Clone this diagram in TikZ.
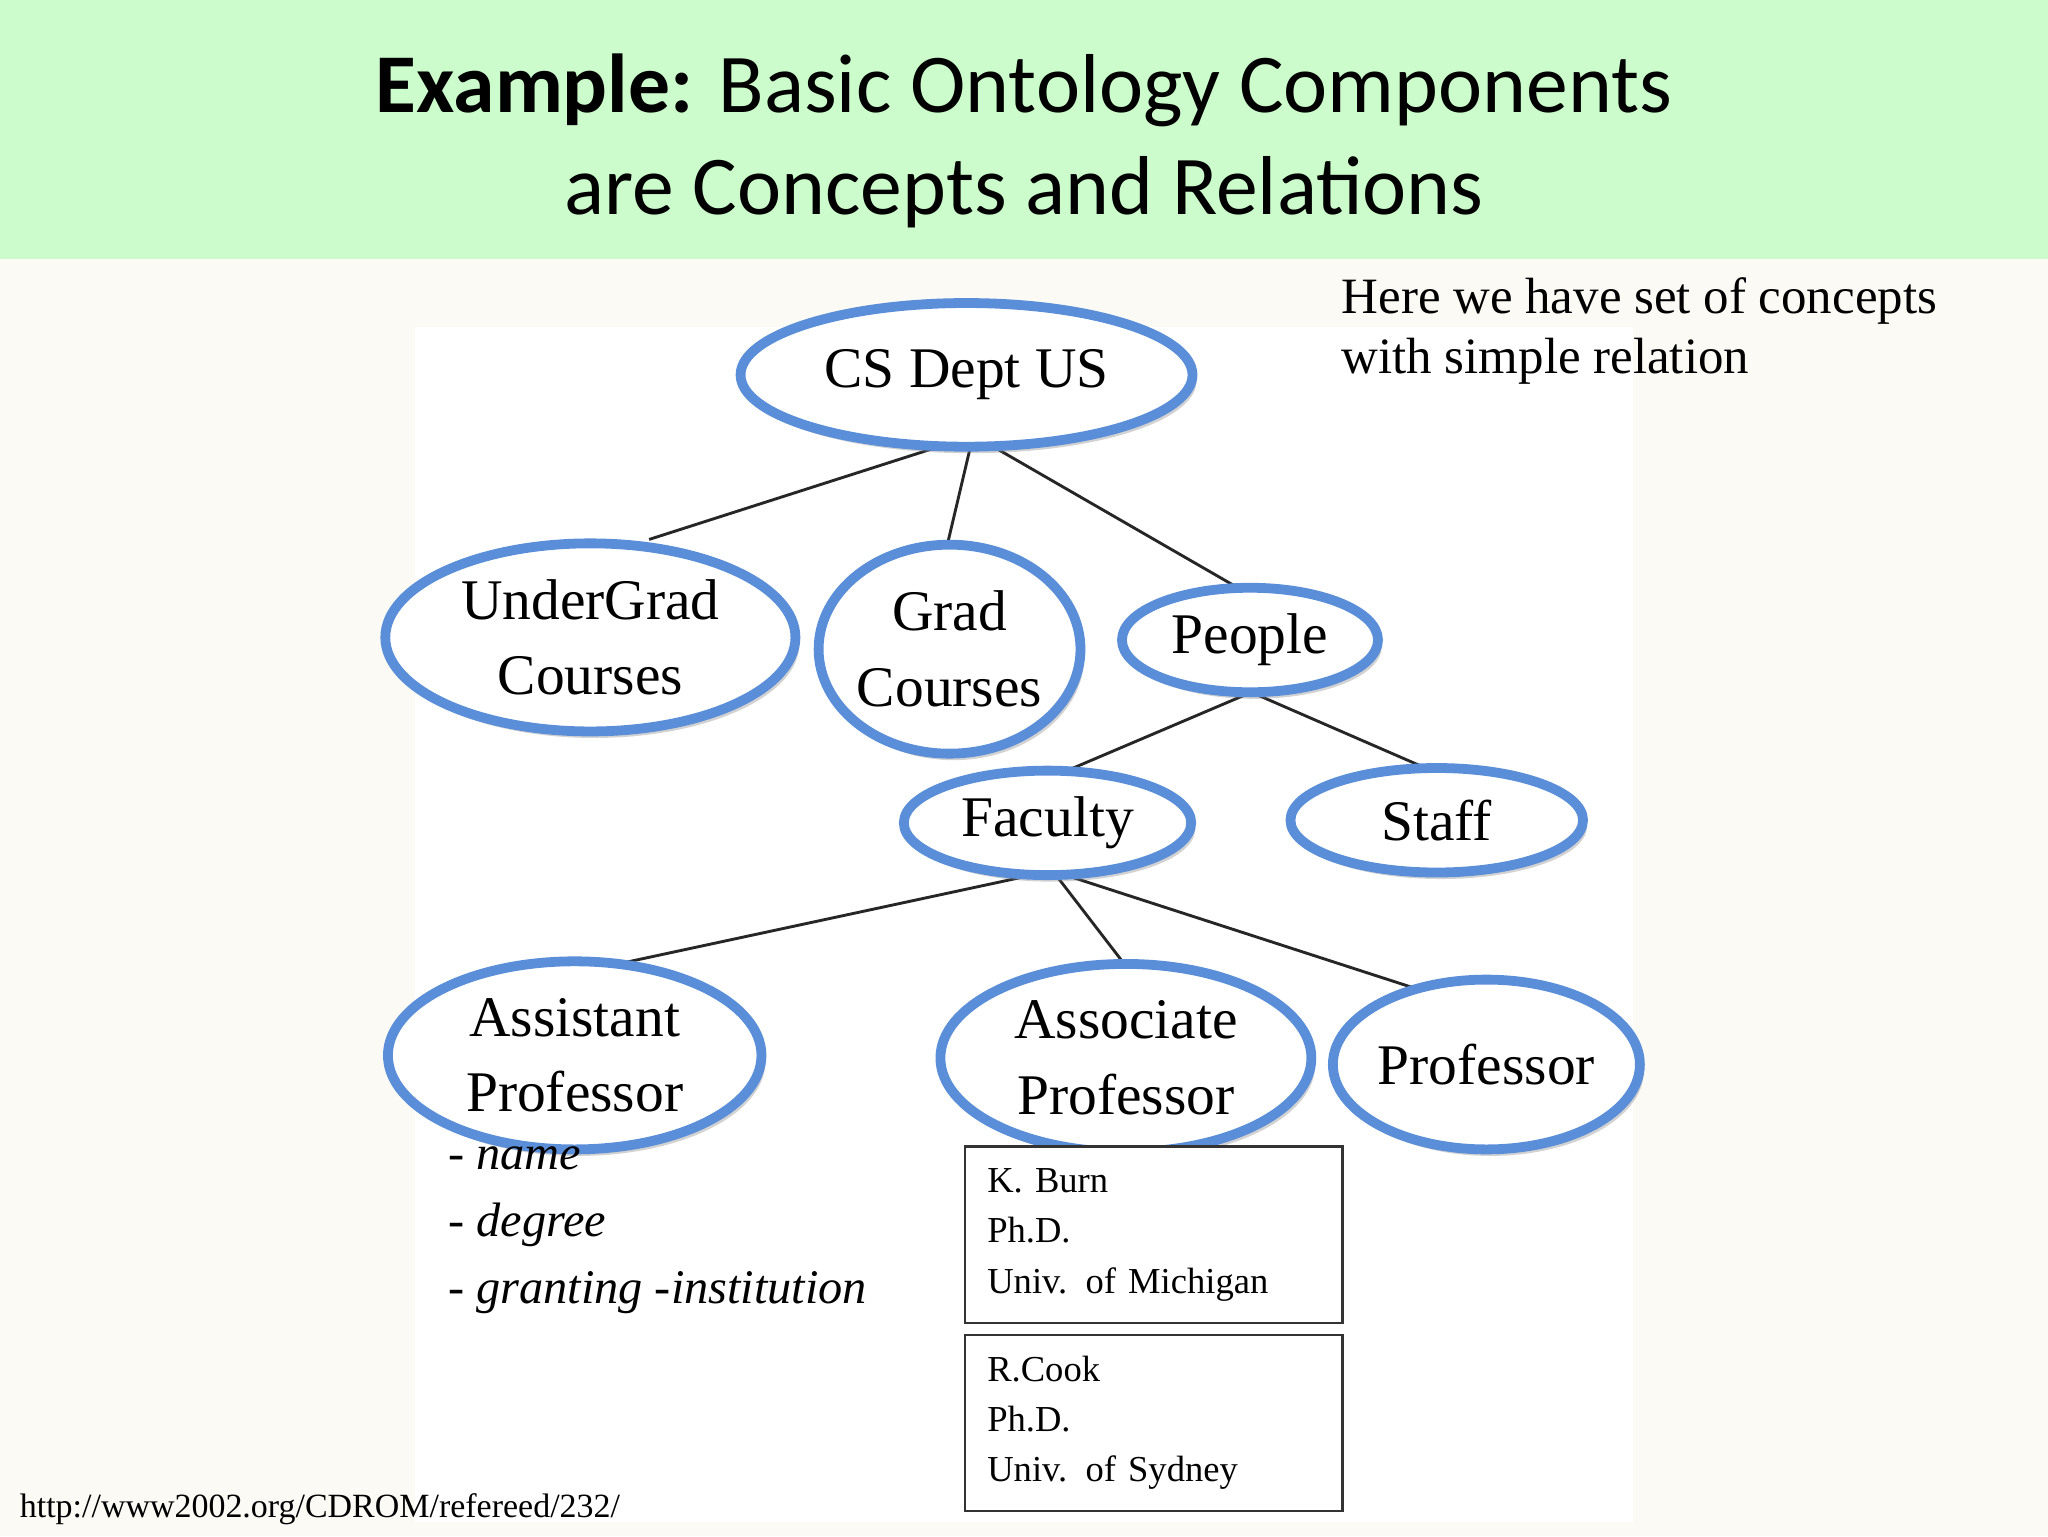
\documentclass[tikz,border=0pt]{standalone}
\usepackage{fontspec}
\setmainfont{Liberation Serif}
\newfontfamily\titlefont{Carlito}
\usetikzlibrary{shapes.geometric,shadows}
\definecolor{band}{HTML}{CCFCCC}
\definecolor{bg}{HTML}{FBFAF5}
\definecolor{ell}{HTML}{5B8ED8}
\tikzset{
 concept/.style={ellipse, draw=ell, line width=7.5pt, fill=white, inner sep=0pt, align=center,
   font=\fontsize{44}{58}\selectfont, drop shadow={shadow xshift=3pt,shadow yshift=-5pt,opacity=0.35}},
 rel/.style={line width=2.2pt, black!85},
 inst/.style={draw=black!80, line width=1.8pt, minimum width=289pt, minimum height=135pt, fill=white,
   align=left, text width=255pt, font=\fontsize{28}{38.5}\selectfont}
}
\begin{document}
\begin{tikzpicture}[x=1pt,y=-1pt]
\useasboundingbox (0,0) rectangle (1568,1176);
\fill[bg] (0,0) rectangle (1568,1176);
\fill[band] (0,0) rectangle (1568,198);
\fill[white] (318,250) rectangle (1250,1165);
\node[font=\titlefont\fontsize{64}{78}\selectfont, align=center] (title) at (784,108)
  {\textbf{Example:} Basic Ontology Components\\are Concepts and Relations};
\node[anchor=north west, align=left, font=\fontsize{39}{46}\selectfont, inner sep=0pt] (note) at (1027,212)
  {Here we have set of concepts\\with simple relation};
\coordinate (csb1) at (725,340);
\coordinate (csb2) at (743,342);
\coordinate (csb3) at (757,340);
\draw[rel] (csb1) -- (497,413) coordinate (ugt);
\draw[rel] (csb2) -- (726,414) coordinate (gct);
\draw[rel] (csb3) -- (946,449) coordinate (pet);
\coordinate (peb) at (958,530);
\draw[rel] (peb) -- (817,590) coordinate (fat);
\draw[rel] (peb) -- (1096,590) coordinate (stt);
\coordinate (fab1) at (790,670);
\coordinate (fab2) at (810,672);
\coordinate (fab3) at (822,672);
\draw[rel] (fab1) -- (478,737) coordinate (apt);
\draw[rel] (fab2) -- (860,737) coordinate (ast);
\draw[rel] (fab3) -- (1140,775) coordinate (prt);
\node[concept, minimum width=346pt, minimum height=110pt] (cs) at (740,287) {\raisebox{-8pt}{CS Dept US}};
\node[concept, minimum width=314pt, minimum height=144pt] (ug) at (452,488) {\raisebox{-4pt}{UnderGrad}\\\raisebox{-4pt}{Courses}};
\node[concept, minimum width=200pt, minimum height=160pt] (gc) at (727,497) {Grad\\Courses};
\node[concept, minimum width=196pt, minimum height=80pt] (pe) at (957,490) {\raisebox{-4pt}{People}};
\node[concept, minimum width=220pt, minimum height=80pt] (fa) at (802,630) {\raisebox{-2pt}{Faculty}};
\node[concept, minimum width=224pt, minimum height=80pt] (st) at (1100,628) {\raisebox{-2pt}{Staff}};
\node[concept, minimum width=286pt, minimum height=144pt] (ap) at (440,808) {\raisebox{-6pt}{Assistant}\\\raisebox{-6pt}{Professor}};
\node[concept, minimum width=284pt, minimum height=144pt] (as) at (862,810) {\raisebox{-5pt}{Associate}\\\raisebox{-5pt}{Professor}};
\node[concept, minimum width=234pt, minimum height=130pt] (pr) at (1138,815) {Professor};
\node[anchor=north west, align=left, inner sep=0pt, font=\fontsize{37}{51}\selectfont] (attr) at (343,878)
  {- \textit{name}\\- \textit{degree}\\- \textit{granting -institution}};
\node[inst, anchor=north west] (b1) at (738,877) {K. Burn\\Ph.D.\\Univ. of Michigan};
\node[inst, anchor=north west] (b2) at (738,1021) {R.Cook\\Ph.D.\\Univ. of Sydney};
\node[anchor=south west, inner sep=0pt, font=\fontsize{26}{28}\selectfont] (url) at (15,1168)
  {http://www2002.org/CDROM/refereed/232/};
\end{tikzpicture}
\end{document}
